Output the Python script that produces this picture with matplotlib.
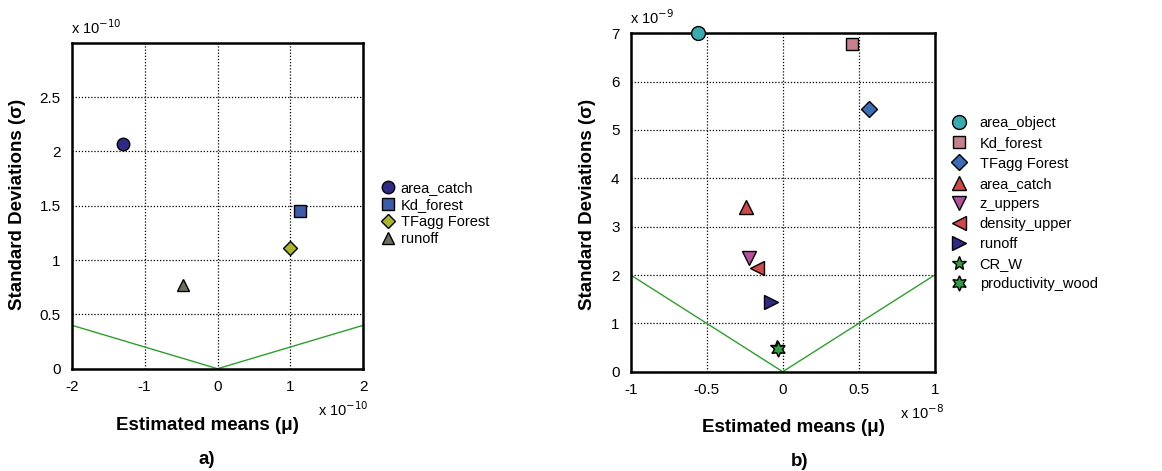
import numpy as np
import matplotlib.pyplot as plt

plt.rcParams['font.family'] = ['Liberation Sans', 'DejaVu Sans']

# panel a) values in units of 1e-10
names_a = ['area_catch', 'Kd_forest', 'TFagg Forest', 'runoff']
mu_a = [-1.30, 1.13, 1.00, -0.47]
sd_a = [2.07, 1.45, 1.11, 0.77]
mk_a = ['o', 's', 'D', '^']
col_a = ['#2f2a84', '#3b5ca8', '#aab52a', '#6b705e']

# panel b) means in units of 1e-8, sds in units of 1e-9
names_b = ['area_object', 'Kd_forest', 'TFagg Forest', 'area_catch', 'z_uppers',
           'density_upper', 'runoff', 'CR_W', 'productivity_wood']
mu_b = [-0.56, 0.456, 0.568, -0.239, -0.221, -0.167, -0.075, -0.039, -0.031]
sd_b = [7.0, 6.78, 5.44, 3.41, 2.36, 2.15, 1.45, 0.52, 0.46]
mk_b = ['o', 's', 'D', '^', 'v', '<', '>', '*', (6, 1, 0)]
col_b = ['#3aa9b0', '#c6808c', '#3c6cb6', '#d04848', '#b64f9e', '#d04848',
         '#2f2a84', '#2ea043', '#2ea043']

fig = plt.figure(figsize=(11.62, 4.71), dpi=100)
axa = fig.add_axes([0.0617, 0.2172, 0.251, 0.692])
axb = fig.add_axes([0.5428, 0.2108, 0.2616, 0.7185])


def style(ax):
    ax.grid(True, color='black', linestyle=(0, (1, 1.5)), linewidth=0.9)
    ax.set_axisbelow(True)
    for s in ax.spines.values():
        s.set_linewidth(1.8)
    ax.tick_params(length=0, labelsize=11, pad=8)


# a)
xx = np.array([-2, 0, 2])
axa.plot(xx, 0.2 * np.abs(xx), color='#2ca02c', lw=1)
for m, s, k, c, n in zip(mu_a, sd_a, mk_a, col_a, names_a):
    axa.plot(m, s, k, color=c, mec='black', mew=1, ms=9 if k != 'D' else 7.5,
             ls='none', label=n)
axa.set_xlim(-2, 2)
axa.set_ylim(0, 3)
axa.set_xticks([-2, -1, 0, 1, 2])
axa.set_xticklabels(['-2', '-1', '0', '1', '2'])
axa.set_yticks([0, 0.5, 1, 1.5, 2, 2.5])
axa.set_yticklabels(['0', '0.5', '1', '1.5', '2', '2.5'])
style(axa)
axa.legend(loc='upper left', bbox_to_anchor=(0.326, 0.615), bbox_transform=fig.transFigure,
           frameon=False, fontsize=10.5, handletextpad=0.3, labelspacing=0.2,
           handlelength=1.2, borderpad=0, borderaxespad=0)

# b)
xb = np.array([-1, 0, 1])
axb.plot(xb, 2 * np.abs(xb), color='#2ca02c', lw=1)
for m, s, k, c, n in zip(mu_b, sd_b, mk_b, col_b, names_b):
    ms = {'o': 10, 's': 9, 'D': 8.5, '*': 10}.get(k, 10) if isinstance(k, str) else 11
    axb.plot(m, s, marker=k, color=c, mec='black', mew=1, ms=ms, ls='none', label=n,
             clip_on=False, zorder=5)
axb.set_xlim(-1, 1)
axb.set_ylim(0, 7)
axb.set_xticks([-1, -0.5, 0, 0.5, 1])
axb.set_xticklabels(['-1', '-0.5', '0', '0.5', '1'])
axb.set_yticks(range(8))
style(axb)
axb.legend(loc='upper left', bbox_to_anchor=(0.818, 0.753), bbox_transform=fig.transFigure,
           frameon=False, fontsize=10.5, handletextpad=0.8, labelspacing=0.42,
           handlelength=1.2, borderpad=0, borderaxespad=0)

# labels
lab = dict(fontsize=13.5, fontweight='bold')
fig.text(18 / 1162, 0.565, 'Standard Deviations (σ)', rotation=90, ha='center', va='center', **lab)
fig.text(588 / 1162, 0.565, 'Standard Deviations (σ)', rotation=90, ha='center', va='center', **lab)
fig.text(207 / 1162, 1 - 425 / 471, 'Estimated means (μ)', ha='center', va='center', **lab)
fig.text(793 / 1162, 1 - 427 / 471, 'Estimated means (μ)', ha='center', va='center', **lab)
fig.text(207 / 1162, 1 - 460 / 471, 'a)', ha='center', va='center', **lab)
fig.text(800 / 1162, 1 - 462 / 471, 'b)', ha='center', va='center', **lab)

off = dict(fontsize=10.5)
fig.text(318 / 1162, 1 - 410 / 471, r'x 10$^{-10}$', ha='left', va='center', **off)
fig.text(71 / 1162, 1 - 28 / 471, r'x 10$^{-10}$', ha='left', va='center', **off)
fig.text(900 / 1162, 1 - 413 / 471, r'x 10$^{-8}$', ha='left', va='center', **off)
fig.text(630 / 1162, 1 - 18 / 471, r'x 10$^{-9}$', ha='left', va='center', **off)

fig.savefig('out.png', dpi=100)
